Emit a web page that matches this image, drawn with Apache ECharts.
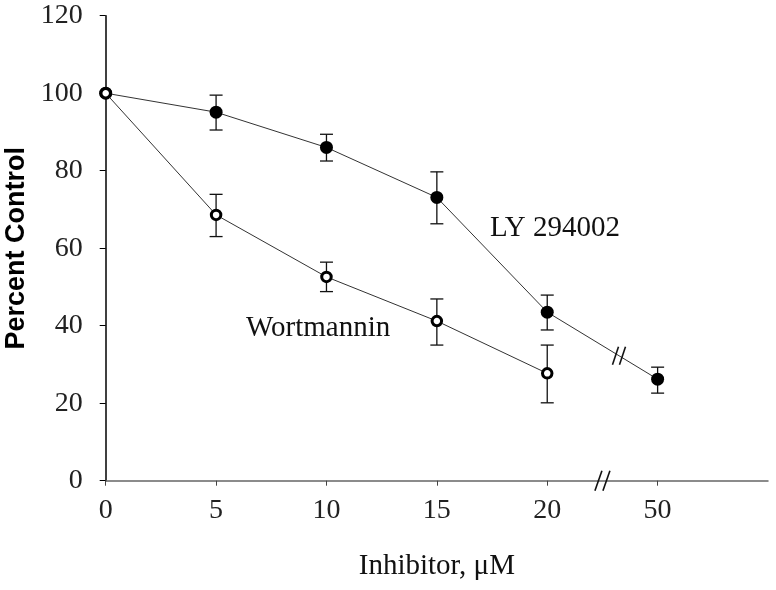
<!DOCTYPE html>
<html>
<head>
<meta charset="utf-8">
<script src="https://cdn.jsdelivr.net/npm/echarts@6/dist/echarts.min.js"></script>
<style>
html,body{margin:0;padding:0;background:#fff;}
#chart{width:776px;height:590px;}
</style>
</head>
<body>
<div id="chart"></div>
<script>
// ---- data ----
const xTickPos    = [0, 5, 10, 15, 20, 25];
const xTickLabels = ['0', '5', '10', '15', '20', '50'];
const yTicks      = [0, 20, 40, 60, 80, 100, 120];

// LY 294002 (filled circles); dose 50 sits at axis position 25 after the break
const lyPos   = [0, 5, 10, 15, 20, 25];
const lyMean  = [100, 95.1, 86.0, 73.1, 43.5, 26.2];
const lyHigh  = [null, 99.5, 89.4, 79.7, 47.9, 29.3];
const lyLow   = [null, 90.5, 82.5, 66.3, 38.9, 22.6];

// Wortmannin (open circles)
const wPos    = [0, 5, 10, 15, 20];
const wMean   = [100, 68.6, 52.6, 41.2, 27.7];
const wHigh   = [null, 73.9, 56.4, 46.9, 35.0];
const wLow    = [null, 63.0, 48.8, 35.0, 20.1];

const axisBreakPos = 22.5;   // break mark on x axis
const lineBreakT   = 0.65;   // fraction along LY segment 20 -> 50

const serif = '"Liberation Serif","Times New Roman",serif';

function pairs(xs, ys) { return xs.map((x, i) => [x, ys[i]]); }
function errData(xs, lo, hi) {
  const out = [];
  xs.forEach((x, i) => { if (lo[i] != null) out.push([x, lo[i], hi[i]]); });
  return out;
}

const lyBreak = [
  lyPos[4] + (lyPos[5] - lyPos[4]) * lineBreakT,
  lyMean[4] + (lyMean[5] - lyMean[4]) * lineBreakT
];

function errRender(params, api) {
  const x = api.value(0);
  const p1 = api.coord([x, api.value(1)]);
  const p2 = api.coord([x, api.value(2)]);
  const w = 6.5;
  const st = { stroke: '#111', lineWidth: 1.3 };
  return {
    type: 'group',
    children: [
      { type: 'line', shape: { x1: p1[0], y1: p1[1], x2: p2[0], y2: p2[1] }, style: st },
      { type: 'line', shape: { x1: p1[0] - w, y1: p1[1], x2: p1[0] + w, y2: p1[1] }, style: st },
      { type: 'line', shape: { x1: p2[0] - w, y1: p2[1], x2: p2[0] + w, y2: p2[1] }, style: st }
    ]
  };
}

function breakRender(h, lean, gap) {
  return function (params, api) {
    const p = api.coord([api.value(0), api.value(1)]);
    const st = { stroke: '#111', lineWidth: 1.6 };
    const kids = [];
    [-gap / 2, gap / 2].forEach(dx => {
      kids.push({ type: 'line',
        shape: { x1: p[0] + dx - lean / 2, y1: p[1] + h / 2, x2: p[0] + dx + lean / 2, y2: p[1] - h / 2 },
        style: st });
    });
    return { type: 'group', children: kids };
  };
}

const chart = echarts.init(document.getElementById('chart'), null, { renderer: 'canvas' });

const option = {
  backgroundColor: '#fff',
  animation: false,
  grid: { left: 105.7, right: 8, top: 15.7, bottom: 109.3, containLabel: false, outerBoundsMode: 'none' },
  xAxis: {
    type: 'value', min: 0, max: 30, interval: 5,
    splitLine: { show: false },
    axisLine: { show: true, onZero: false, lineStyle: { color: '#666', width: 1.5 } },
    axisTick: { show: true, length: 5, lineStyle: { color: '#444', width: 1 }, customValues: xTickPos },
    axisLabel: {
      margin: 16, color: '#222', fontFamily: serif, fontSize: 28,
      customValues: xTickPos,
      formatter: v => { const i = xTickPos.indexOf(v); return i >= 0 ? xTickLabels[i] : ''; }
    },
    name: 'Inhibitor, \u03bcM', nameLocation: 'middle', nameGap: 71,
    nameTextStyle: { color: '#111', fontFamily: serif, fontSize: 29 }
  },
  yAxis: {
    type: 'value', min: 0, max: 120, interval: 20,
    splitLine: { show: false },
    axisLine: { show: true, lineStyle: { color: '#000', width: 1.5 } },
    axisTick: { show: true, length: 6, lineStyle: { color: '#000', width: 1 } },
    axisLabel: {
      margin: 23, color: '#222', fontFamily: serif, fontSize: 28,
      customValues: yTicks
    },
    name: 'Percent Control', nameLocation: 'middle', nameGap: 74,
    nameTextStyle: { color: '#000', fontFamily: '"Liberation Sans",Arial,sans-serif', fontSize: 27, fontWeight: 'bold' }
  },
  series: [
    { type: 'custom', name: 'lyErr', data: errData(lyPos, lyLow, lyHigh), renderItem: errRender, z: 1, clip: false },
    { type: 'custom', name: 'wErr', data: errData(wPos, wLow, wHigh), renderItem: errRender, z: 1, clip: false },
    {
      type: 'line', name: 'LY 294002', data: pairs(lyPos, lyMean), z: 3,
      symbol: 'circle', symbolSize: 13, showAllSymbol: true,
      lineStyle: { color: '#333', width: 1 },
      itemStyle: { color: '#000', borderColor: '#000', borderWidth: 0 }
    },
    {
      type: 'line', name: 'Wortmannin', data: pairs(wPos, wMean), z: 4,
      symbol: 'circle', symbolSize: 9.5, showAllSymbol: true,
      lineStyle: { color: '#333', width: 1 },
      itemStyle: { color: '#fff', borderColor: '#000', borderWidth: 3 }
    },
    { type: 'custom', name: 'axisBreak', data: [[axisBreakPos, 0]], renderItem: breakRender(20, 7, 8), z: 6, clip: false },
    { type: 'custom', name: 'lineBreak', data: [lyBreak], renderItem: breakRender(18, 6, 7), z: 6, clip: false }
  ],
  graphic: [
    { type: 'text', left: 490, top: 214, style: { text: 'LY 294002', font: '29px ' + serif, fill: '#111' } },
    { type: 'text', left: 246, top: 314, style: { text: 'Wortmannin', font: '29px ' + serif, fill: '#111' } }
  ]
};

chart.setOption(option);
</script>
</body>
</html>
